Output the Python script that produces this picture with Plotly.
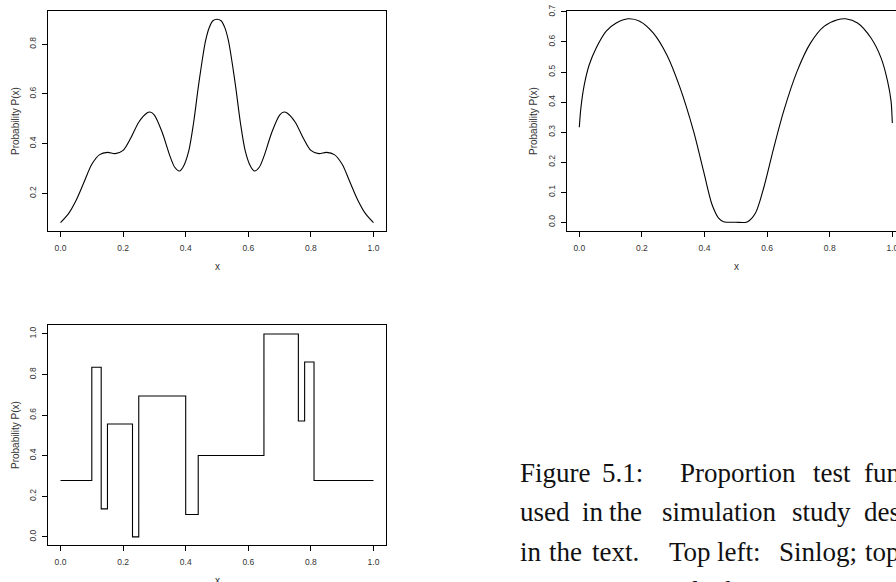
import plotly.graph_objects as go

W, H = 896, 582

# ---------------- data ----------------
sinlog_x = [0.0, 0.025, 0.05, 0.075, 0.1, 0.125, 0.15, 0.175, 0.2, 0.225, 0.25, 0.275, 0.286,
            0.3, 0.325, 0.35, 0.365, 0.38, 0.393, 0.41, 0.425, 0.44, 0.45, 0.463, 0.475, 0.487, 0.5,
            0.513, 0.525, 0.537, 0.55, 0.56, 0.575, 0.59, 0.607, 0.62, 0.635, 0.65, 0.675, 0.7, 0.714,
            0.725, 0.75, 0.775, 0.8, 0.825, 0.85, 0.875, 0.9, 0.925, 0.95, 0.975, 1.0]
sinlog_y = [0.083, 0.118, 0.173, 0.245, 0.317, 0.356, 0.365, 0.360, 0.373, 0.424, 0.486, 0.522, 0.527,
            0.515, 0.445, 0.349, 0.305, 0.290, 0.309, 0.372, 0.482, 0.625, 0.712, 0.811, 0.866, 0.894, 0.900,
            0.894, 0.866, 0.811, 0.712, 0.625, 0.482, 0.372, 0.309, 0.290, 0.305, 0.349, 0.445, 0.515, 0.527,
            0.522, 0.486, 0.424, 0.373, 0.360, 0.365, 0.356, 0.317, 0.245, 0.173, 0.118, 0.083]

bumps_x = [0.0, 0.005, 0.016, 0.032, 0.054, 0.086, 0.118, 0.156, 0.193, 0.236, 0.279, 0.322, 0.365,
           0.397, 0.424, 0.445, 0.461, 0.5, 0.536, 0.563, 0.589, 0.621, 0.653, 0.696, 0.739, 0.782,
           0.825, 0.851, 0.889, 0.932, 0.964, 0.985, 0.996, 1.0]
bumps_y = [0.316, 0.380, 0.458, 0.525, 0.580, 0.636, 0.663, 0.677, 0.669, 0.630, 0.558, 0.447, 0.303,
           0.170, 0.059, 0.014, 0.002, 0.0, 0.001, 0.031, 0.114, 0.247, 0.370, 0.503, 0.597, 0.652,
           0.674, 0.677, 0.663, 0.613, 0.547, 0.469, 0.403, 0.330]

blocks_x = [0.0, 0.10, 0.13, 0.15, 0.23, 0.25, 0.40, 0.44, 0.65, 0.76, 0.78, 0.81, 1.0]
blocks_y = [0.278, 0.836, 0.138, 0.556, 0.0, 0.694, 0.110, 0.401, 1.0, 0.571, 0.862, 0.278, 0.278]

x_ticks = [0.0, 0.2, 0.4, 0.6, 0.8, 1.0]
y_ticks_tl = [0.2, 0.4, 0.6, 0.8]
y_ticks_tr = [0.0, 0.1, 0.2, 0.3, 0.4, 0.5, 0.6, 0.7]
y_ticks_bl = [0.0, 0.2, 0.4, 0.6, 0.8, 1.0]

y_title = "Probability P(x)"
x_title = "x"

caption_lines = [
    ["Figure", "5.1:", "Proportion", "test", "functions"],
    ["used", "in", "the", "simulation", "study", "described"],
    ["in", "the", "text.", "Top", "left:", "Sinlog;", "top"],
    ["Bottom:", "Blocks"],
]
caption_word_x = [
    [518, 600, 678, 811, 862],
    [518, 580, 607, 660, 790, 862],
    [518, 547, 590, 667, 715, 777, 863],
    [518, 672],
]
caption_line_y = [473, 512, 552, 591]

# ---------------- figure ----------------
fig = go.Figure()
fig.add_trace(go.Scatter(x=sinlog_x, y=sinlog_y, mode="lines",
                         line=dict(color="black", width=1.1, shape="spline", smoothing=0.8),
                         xaxis="x", yaxis="y", showlegend=False, hoverinfo="skip"))
fig.add_trace(go.Scatter(x=bumps_x, y=bumps_y, mode="lines",
                         line=dict(color="black", width=1.1, shape="spline", smoothing=0.8),
                         xaxis="x2", yaxis="y2", showlegend=False, hoverinfo="skip"))
fig.add_trace(go.Scatter(x=blocks_x, y=blocks_y, mode="lines",
                         line=dict(color="black", width=1.1, shape="hv"),
                         xaxis="x3", yaxis="y3", showlegend=False, hoverinfo="skip"))

tickfont = dict(family="Liberation Sans, Arial, sans-serif", size=8.5, color="#333333")

def xax(domain, rng, anchor):
    return dict(domain=domain, range=rng, anchor=anchor, tickvals=x_ticks, tickformat=".1f",
                ticks="outside", ticklen=5, tickcolor="black", tickwidth=1,
                showline=True, mirror=True, linecolor="black", linewidth=1,
                showgrid=False, zeroline=False, tickfont=tickfont, ticklabelstandoff=4,
                automargin=False, ticklabeloverflow="allow", fixedrange=True)

def yax(domain, rng, anchor, tv, mirror=True):
    return dict(domain=domain, range=rng, anchor=anchor, tickvals=tv, tickformat=".1f",
                ticks="outside", ticklen=5, tickcolor="black", tickwidth=1, tickangle=-90,
                showline=True, mirror=mirror, linecolor="black", linewidth=1,
                showgrid=False, zeroline=False, tickfont=tickfont, ticklabelstandoff=3,
                automargin=False, ticklabeloverflow="allow", fixedrange=True)

left_dom = [48 / W, 386 / W]
right_dom = [567 / W, 1.0]
top_dom = [1 - 231 / H, 1 - 11 / H]
bot_dom = [1 - 545 / H, 1 - 325 / H]

annotations = []
def ann(text, x, y, **kw):
    d = dict(text=text, x=x / W, y=1 - y / H, xref="paper", yref="paper", showarrow=False,
             xanchor="center", yanchor="middle",
             font=dict(family="Liberation Sans, Arial, sans-serif", size=10, color="#333333"))
    d.update(kw)
    annotations.append(d)

ann(x_title, 217, 267)
ann(x_title, 736, 267)
ann(x_title, 217, 580)
ann(y_title, 15, 121, textangle=-90)
ann(y_title, 533, 121, textangle=-90)
ann(y_title, 15, 435, textangle=-90)

for words, xs, yc in zip(caption_lines, caption_word_x, caption_line_y):
    for w, xp in zip(words, xs):
        ann(w, xp, yc, xanchor="left", yanchor="middle",
            font=dict(family="Liberation Serif, Times New Roman, serif", size=27, color="#111111"))

fig.update_layout(
    width=W, height=H, margin=dict(l=0, r=0, t=0, b=0, autoexpand=False),
    paper_bgcolor="white", plot_bgcolor="white",
    xaxis=xax(left_dom, [-0.04, 1.04], "y"),
    yaxis=yax(top_dom, [0.049, 0.933], "x", y_ticks_tl),
    xaxis2=xax(right_dom, [-0.0393, 1.0118], "y2"),
    yaxis2=yax(top_dom, [-0.029, 0.703], "x2", y_ticks_tr, mirror=False),
    xaxis3=xax(left_dom, [-0.04, 1.04], "y3"),
    yaxis3=yax(bot_dom, [-0.04, 1.044], "x3", y_ticks_bl),
    annotations=annotations,
)

fig.write_html("out.html")
